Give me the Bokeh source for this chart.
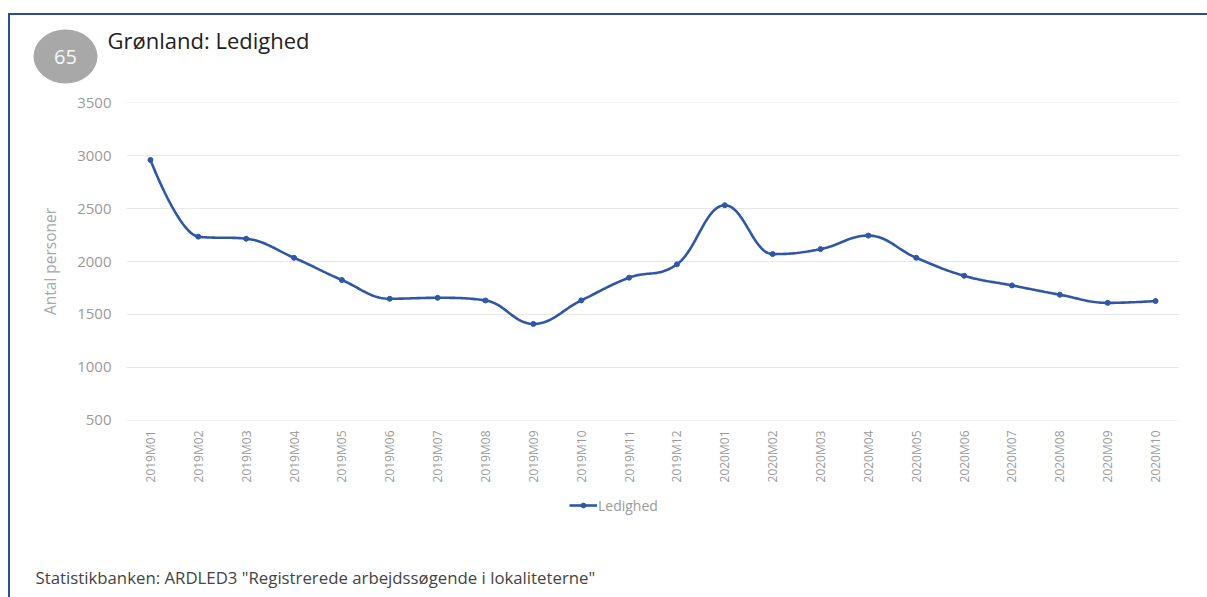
import numpy as np
from bokeh.plotting import figure
from bokeh.layouts import column
from bokeh.models import (Range1d, FixedTicker, Label, Legend, LegendItem,
                          ColumnDataSource, Plot)
from bokeh.embed import file_html
from bokeh.resources import INLINE

# ---- data ----
months = ["2019M01", "2019M02", "2019M03", "2019M04", "2019M05", "2019M06",
          "2019M07", "2019M08", "2019M09", "2019M10", "2019M11", "2019M12",
          "2020M01", "2020M02", "2020M03", "2020M04", "2020M05", "2020M06",
          "2020M07", "2020M08", "2020M09", "2020M10"]
ledighed = [2960, 2235, 2215, 2035, 1825, 1648, 1657, 1632, 1410, 1632, 1847, 1973,
            2532, 2070, 2117, 2245, 2035, 1865, 1774, 1686, 1609, 1626]
y_ticks = [500, 1000, 1500, 2000, 2500, 3000, 3500]

title_text = "Grønland: Ledighed"
badge_text = "65"
y_title = "Antal personer"
series_name = "Ledighed"
source_text = 'Statistikbanken: ARDLED3 "Registrerede arbejdssøgende i lokaliteterne"'

FONT = "Open Sans"
BLUE = "#2f57a5"
FRAME_COLOR = "#2e4b9c"

xs = np.arange(len(months), dtype=float)
ys = np.array(ledighed, dtype=float)


# Highcharts-like spline (smoothing 1.5) drawn as cubic Bezier segments
def spline_path(x, y, smoothing=1.5, steps=24):
    n = len(x)
    lc = [(x[i], y[i]) for i in range(n)]
    rc = [(x[i], y[i]) for i in range(n)]
    d = smoothing + 1
    for i in range(1, n - 1):
        lx = (smoothing * x[i] + x[i - 1]) / d
        ly = (smoothing * y[i] + y[i - 1]) / d
        rx = (smoothing * x[i] + x[i + 1]) / d
        ry = (smoothing * y[i] + y[i + 1]) / d
        corr = 0.0
        if rx != lx:
            corr = ((ry - ly) * (rx - x[i])) / (rx - lx) + y[i] - ry
        ly += corr
        ry += corr
        if ly > y[i - 1] and ly > y[i]:
            ly = max(y[i - 1], y[i]); ry = 2 * y[i] - ly
        elif ly < y[i - 1] and ly < y[i]:
            ly = min(y[i - 1], y[i]); ry = 2 * y[i] - ly
        if ry > y[i + 1] and ry > y[i]:
            ry = max(y[i + 1], y[i]); ly = 2 * y[i] - ry
        elif ry < y[i + 1] and ry < y[i]:
            ry = min(y[i + 1], y[i]); ly = 2 * y[i] - ry
        lc[i] = (lx, ly)
        rc[i] = (rx, ry)
    px, py = [x[0]], [y[0]]
    t = np.linspace(0, 1, steps + 1)[1:]
    for i in range(1, n):
        p0 = np.array([x[i - 1], y[i - 1]])
        p1 = np.array(rc[i - 1])
        p2 = np.array(lc[i])
        p3 = np.array([x[i], y[i]])
        for tt in t:
            b = ((1 - tt) ** 3) * p0 + 3 * ((1 - tt) ** 2) * tt * p1 + 3 * (1 - tt) * tt ** 2 * p2 + tt ** 3 * p3
            px.append(b[0]); py.append(b[1])
    return px, py


cx, cy = spline_path(xs, ys)

# Canvas origin on the page is (10, 15): 8/13 px margin + 2 px frame border
W = 1197
H_HDR, H_MAIN, H_FTR = 70, 405, 107
HAS_FRAME_ALIGN = "frame_align" in Plot.properties()


def blank_fig(h):
    f = figure(width=W, height=h, output_backend="svg", toolbar_location=None,
               x_range=Range1d(0, W), y_range=Range1d(0, h),
               x_axis_type=None, y_axis_type=None, min_border=0)
    if HAS_FRAME_ALIGN:
        f.frame_align = False
    f.outline_line_color = None
    f.background_fill_color = "white"
    f.border_fill_color = "white"
    f.grid.visible = False
    return f


# ---- header: badge + title ----
hdr = blank_fig(H_HDR)
hdr.ellipse(x=[55], y=[29], width=[64], height=[54], fill_color="#a8a8a8", line_color=None)
hdr.add_layout(Label(x=55, y=29, x_units="screen", y_units="screen", text=badge_text,
                     text_font=FONT, text_font_size="20px", text_color="#f6f6f6",
                     text_align="center", text_baseline="middle"))
hdr.add_layout(Label(x=97, y=46, x_units="screen", y_units="screen", text=title_text,
                     text_font=FONT, text_font_size="22px", text_color="#222222",
                     text_baseline="alphabetic"))

# ---- main chart ----
p = figure(width=W, height=H_MAIN, output_backend="svg", toolbar_location=None,
           x_range=Range1d(-0.5, len(months) - 0.5), y_range=Range1d(497, 3503),
           min_border_left=116, min_border_right=28, min_border_top=17,
           min_border_bottom=70)
p.outline_line_color = None
p.background_fill_color = "white"
p.border_fill_color = "white"

line_r = p.line(cx, cy, line_color=BLUE, line_width=2.6)
pts = ColumnDataSource(dict(x=xs, y=ys, m=months))
dot_r = p.scatter("x", "y", source=pts, size=5, fill_color=BLUE, line_color=BLUE)

p.xaxis.ticker = FixedTicker(ticks=list(range(len(months))))
p.xaxis.major_label_overrides = {i: m for i, m in enumerate(months)}
p.xaxis.major_label_orientation = np.pi / 2
p.yaxis.ticker = FixedTicker(ticks=y_ticks)
for ax in (p.xaxis[0], p.yaxis[0]):
    ax.axis_line_color = None
    ax.major_tick_line_color = None
    ax.minor_tick_line_color = None
    ax.major_tick_out = 0
    ax.major_tick_in = 0
    ax.minor_tick_out = 0
    ax.major_label_text_font = FONT
    ax.major_label_text_color = "#9a9a9a"
p.xaxis.major_label_text_font_size = "12px"
p.yaxis.major_label_text_font_size = "15px"
p.xaxis.major_label_standoff = 10
p.yaxis.major_label_standoff = 15
p.yaxis.axis_label = y_title
p.yaxis.axis_label_text_font = FONT
p.yaxis.axis_label_text_font_size = "15.5px"
p.yaxis.axis_label_text_font_style = "normal"
p.yaxis.axis_label_text_color = "#a8a8a8"
p.yaxis.axis_label_standoff = 13

p.xgrid.grid_line_color = None
p.ygrid.grid_line_color = "#e8e8e8"
p.ygrid.grid_line_width = 1

# ---- footer: legend + source ----
ftr = blank_fig(H_FTR)
leg_line = ftr.line(x=[np.nan], y=[np.nan], line_color=BLUE, line_width=2.6)
leg_dot = ftr.scatter(x=[np.nan], y=[np.nan], size=5, fill_color=BLUE, line_color=BLUE)
legend = Legend(items=[LegendItem(label=series_name, renderers=[leg_line, leg_dot])],
                location=(559, 82), orientation="horizontal",
                label_text_font=FONT, label_text_font_size="14px",
                label_text_color="#9a9a9a", glyph_width=28, glyph_height=12,
                label_height=20, label_standoff=1, spacing=0,
                background_fill_alpha=0, border_line_color=None, padding=0, margin=0)
ftr.add_layout(legend, "center")
ftr.add_layout(Label(x=25, y=20, x_units="screen", y_units="screen", text=source_text,
                     text_font=FONT, text_font_size="16.8px", text_color="#444444",
                     text_baseline="alphabetic"))

layout = column(hdr, p, ftr, spacing=0,
                styles={"border-top": f"2px solid {FRAME_COLOR}",
                        "border-left": f"2px solid {FRAME_COLOR}",
                        "margin-left": "8px", "margin-top": "13px"})

open("out.html", "w").write(file_html(layout, INLINE))
